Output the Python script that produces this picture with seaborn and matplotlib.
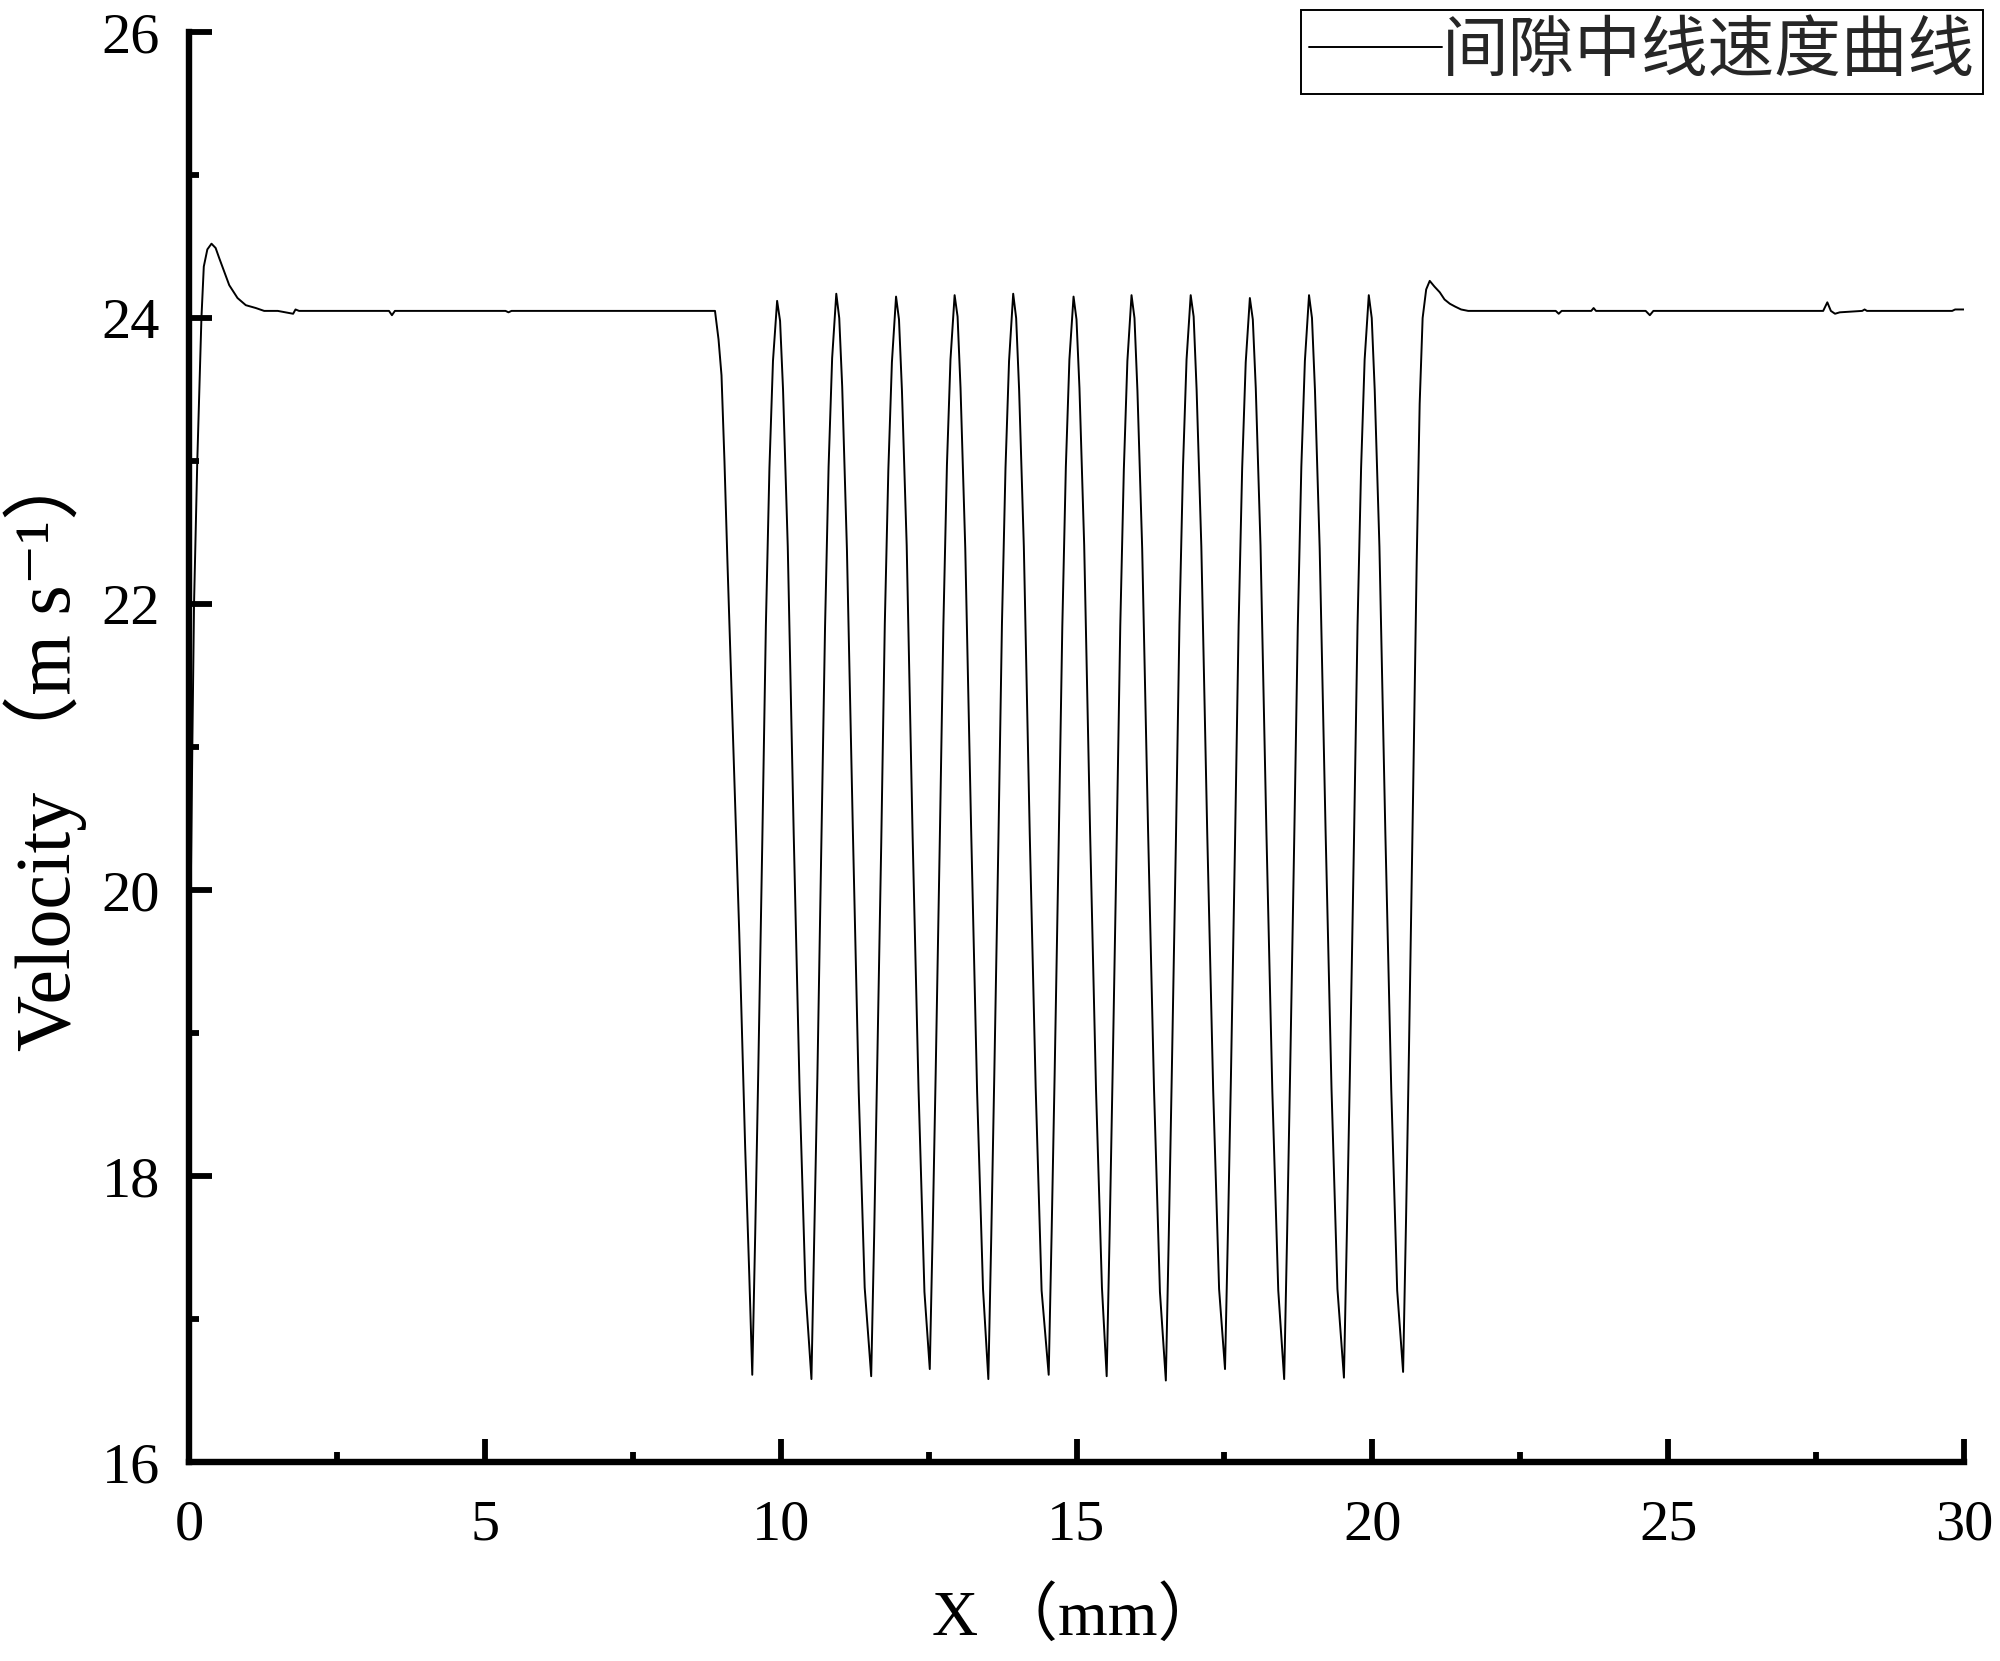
#!/usr/bin/env python3

import matplotlib
matplotlib.use("Agg")
import matplotlib.pyplot as plt
import numpy as np
import pandas as pd
import seaborn as sns
from matplotlib.ticker import MultipleLocator

# inlet transient and first flat stretch, x in mm, velocity in m/s
x_lead = [0.0, 0.03, 0.056, 0.085, 0.14, 0.21, 0.25, 0.31, 0.38, 0.45, 0.51, 0.60,
          0.68, 0.82, 0.96, 1.13, 1.27, 1.50, 1.76, 1.80, 1.86, 2.30, 3.38, 3.43,
          3.48, 5.35, 5.40, 5.45, 8.89, 8.95, 9.00, 9.05, 9.10, 9.20, 9.30, 9.40, 9.47]
v_lead = [19.90, 20.00, 21.00, 22.00, 23.00, 24.00, 24.36, 24.48, 24.52, 24.49, 24.42, 24.32,
          24.23, 24.14, 24.09, 24.07, 24.05, 24.05, 24.03, 24.06, 24.05, 24.05, 24.05, 24.02,
          24.05, 24.05, 24.04, 24.05, 24.05, 23.85, 23.60, 23.00, 22.30, 21.00, 19.70, 18.20, 17.30]

# gap section: twelve dips and eleven peaks
x_wave = [
    9.52, 9.57, 9.62, 9.69, 9.75, 9.81, 9.87, 9.94, 9.99, 10.04, 10.12, 10.22, 10.32, 10.42,
    10.52, 10.57, 10.62, 10.69, 10.75, 10.81, 10.87, 10.94, 10.99, 11.04, 11.12, 11.22, 11.32, 11.42,
    11.53, 11.58, 11.63, 11.70, 11.76, 11.82, 11.88, 11.95, 12.00, 12.05, 12.13, 12.23, 12.33, 12.43,
    12.52, 12.57, 12.62, 12.69, 12.75, 12.81, 12.87, 12.94, 12.99, 13.04, 13.12, 13.22, 13.32, 13.42,
    13.51, 13.56, 13.61, 13.68, 13.74, 13.80, 13.86, 13.93, 13.98, 14.03, 14.11, 14.21, 14.31, 14.41,
    14.53, 14.58, 14.63, 14.70, 14.76, 14.82, 14.88, 14.95, 15.00, 15.05, 15.13, 15.23, 15.33, 15.43,
    15.51, 15.56, 15.61, 15.68, 15.74, 15.80, 15.86, 15.93, 15.98, 16.03, 16.11, 16.21, 16.31, 16.41,
    16.51, 16.56, 16.61, 16.68, 16.74, 16.80, 16.86, 16.93, 16.98, 17.03, 17.11, 17.21, 17.31, 17.41,
    17.51, 17.56, 17.61, 17.68, 17.74, 17.80, 17.86, 17.93, 17.98, 18.03, 18.11, 18.21, 18.31, 18.41,
    18.51, 18.56, 18.61, 18.68, 18.74, 18.80, 18.86, 18.93, 18.98, 19.03, 19.11, 19.21, 19.31, 19.41,
    19.52, 19.57, 19.62, 19.69, 19.75, 19.81, 19.87, 19.94, 19.99, 20.04, 20.12, 20.22, 20.32, 20.42,
]
v_wave = [
    16.61, 17.60, 18.70, 20.35, 21.85, 22.95, 23.70, 24.12, 23.98, 23.50, 22.40, 20.40, 18.60, 17.20,
    16.58, 17.62, 18.68, 20.37, 21.84, 22.96, 23.72, 24.17, 24.00, 23.52, 22.38, 20.42, 18.58, 17.22,
    16.60, 17.58, 18.71, 20.33, 21.86, 22.94, 23.69, 24.15, 23.99, 23.49, 22.41, 20.38, 18.61, 17.19,
    16.65, 17.63, 18.72, 20.36, 21.85, 22.97, 23.71, 24.16, 24.01, 23.51, 22.39, 20.41, 18.59, 17.21,
    16.58, 17.59, 18.69, 20.34, 21.86, 22.95, 23.70, 24.17, 24.00, 23.50, 22.40, 20.39, 18.62, 17.20,
    16.61, 17.61, 18.70, 20.35, 21.84, 22.96, 23.71, 24.15, 23.99, 23.51, 22.41, 20.40, 18.60, 17.22,
    16.60, 17.60, 18.71, 20.36, 21.85, 22.94, 23.70, 24.16, 24.00, 23.49, 22.39, 20.41, 18.61, 17.19,
    16.57, 17.59, 18.70, 20.34, 21.86, 22.96, 23.71, 24.16, 24.01, 23.50, 22.40, 20.39, 18.60, 17.21,
    16.65, 17.62, 18.69, 20.35, 21.85, 22.95, 23.69, 24.14, 23.99, 23.51, 22.41, 20.40, 18.59, 17.20,
    16.58, 17.60, 18.71, 20.36, 21.84, 22.96, 23.70, 24.16, 24.00, 23.50, 22.39, 20.41, 18.61, 17.21,
    16.59, 17.61, 18.70, 20.35, 21.85, 22.95, 23.71, 24.16, 24.00, 23.50, 22.40, 20.40, 18.60, 17.20,
]

# last dip, outlet overshoot and second flat stretch
x_tail = [20.52, 20.57, 20.62, 20.69, 20.75, 20.80, 20.85, 20.91, 20.97, 21.05, 21.14, 21.22,
          21.31, 21.40, 21.50, 21.62, 21.80, 23.10, 23.15, 23.20, 23.70, 23.74, 23.78, 24.62,
          24.69, 24.75, 27.62, 27.69, 27.75, 27.82, 27.90, 28.28, 28.32, 28.36, 29.80, 29.85, 30.0]
v_tail = [16.63, 17.70, 18.90, 20.70, 22.30, 23.40, 24.00, 24.20, 24.26, 24.22, 24.18, 24.13,
          24.10, 24.08, 24.06, 24.05, 24.05, 24.05, 24.03, 24.05, 24.05, 24.07, 24.05, 24.05,
          24.02, 24.05, 24.05, 24.11, 24.05, 24.03, 24.04, 24.05, 24.06, 24.05, 24.05, 24.06, 24.06]

legend_label = "间隙中线速度曲线"
x_label = "X （mm）"
y_label = "Velocity （m s⁻¹）"
x_ticks = [0, 5, 10, 15, 20, 25, 30]
y_ticks = [16, 18, 20, 22, 24, 26]

sns.set_theme(style="ticks")
plt.rcParams["font.family"] = ["Liberation Serif", "Noto Sans CJK SC", "DejaVu Serif"]


def main() -> None:
    df = pd.DataFrame({
        "x": np.concatenate([x_lead, x_wave, x_tail]),
        "v": np.concatenate([v_lead, v_wave, v_tail]),
    })

    fig = plt.figure(figsize=(20, 16.61), dpi=100)
    ax = fig.add_axes([0.0945, 0.1198, 0.8875, 0.8609])

    sns.lineplot(data=df, x="x", y="v", sort=False, estimator=None, color="black",
                 linewidth=1.4, label=legend_label, ax=ax)

    ax.set_xlim(0, 30)
    ax.set_ylim(16, 26)
    ax.set_xticks(x_ticks)
    ax.set_yticks(y_ticks)
    ax.xaxis.set_minor_locator(MultipleLocator(2.5))
    ax.yaxis.set_minor_locator(MultipleLocator(1))

    for side in ["top", "right"]:
        ax.spines[side].set_visible(False)
    for side in ["left", "bottom"]:
        ax.spines[side].set_linewidth(4.6)
        ax.spines[side].set_color("black")

    ax.tick_params(which="major", direction="in", length=16.5, width=4.2, color="black",
                   labelsize=42, labelcolor="black")
    ax.tick_params(which="minor", direction="in", length=7.5, width=4.2, color="black")
    ax.tick_params(axis="x", which="major", pad=27)
    ax.tick_params(axis="y", which="major", pad=21)

    ax.set_xlabel(x_label, fontsize=46, labelpad=26, color="black")
    ax.set_ylabel(y_label, fontsize=56, labelpad=10, color="black")

    leg = ax.legend(loc="upper right", bbox_to_anchor=(1983 / 2000, 1 - 10 / 1661),
                    bbox_transform=fig.transFigure, borderaxespad=0, borderpad=0.12,
                    handlelength=2.0, handletextpad=0.0, fancybox=False, framealpha=1,
                    edgecolor="black", prop={"size": 48, "family": ["Noto Sans CJK SC"]})
    leg.get_frame().set_linewidth(1.4)
    for line in leg.get_lines():
        line.set_linewidth(1.4)

    fig.savefig("out.png", dpi=100, facecolor="white")
    plt.close(fig)


if __name__ == "__main__":
    main()
